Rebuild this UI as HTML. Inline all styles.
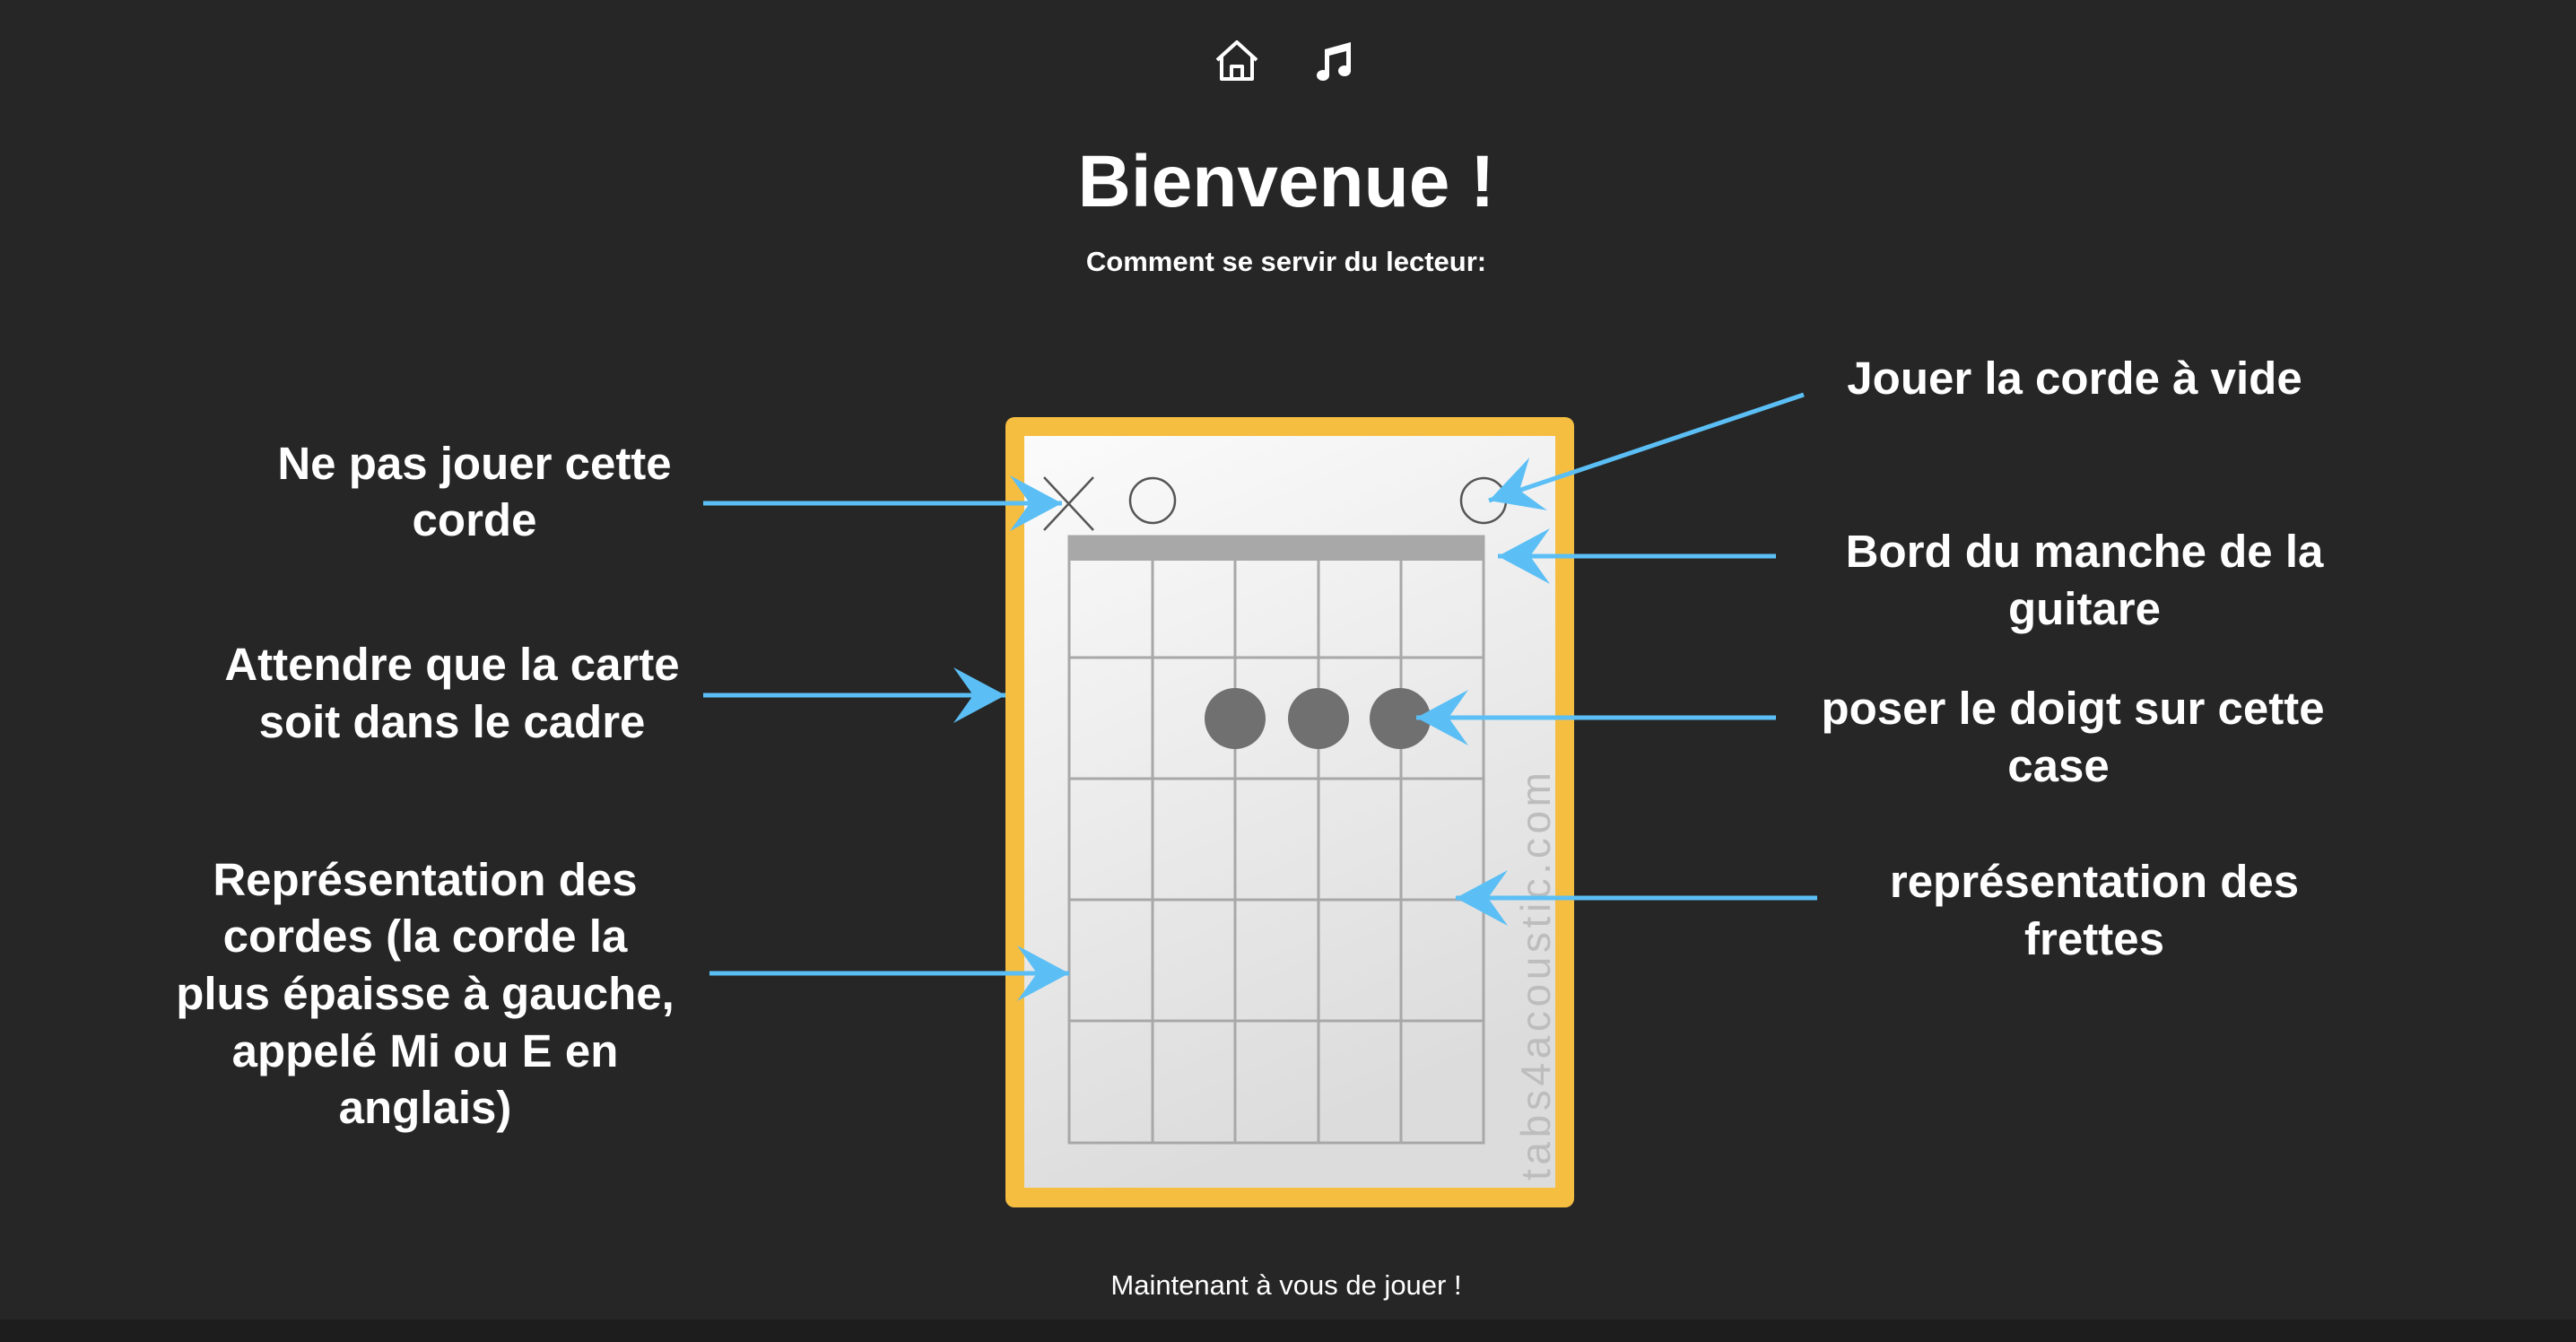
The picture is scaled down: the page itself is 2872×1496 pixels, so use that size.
<!DOCTYPE html>
<html><head><meta charset="utf-8"><style>
html,body{margin:0;padding:0;background:#262626;}
svg{display:block}
text{font-family:"Liberation Sans",sans-serif;fill:#fff;font-weight:bold;}
</style></head><body>
<svg width="2872" height="1496" viewBox="0 0 2872 1496" xmlns="http://www.w3.org/2000/svg">
<defs>
<marker id="ah" viewBox="-60 -35 65 70" markerWidth="65" markerHeight="70" refX="0" refY="0" markerUnits="userSpaceOnUse" orient="auto">
<path d="M0,0 L-58,-31 L-36,0 L-58,31 Z" fill="#5bbff5"/>
</marker>
<linearGradient id="cg" x1="0" y1="0" x2="0.3" y2="1">
<stop offset="0" stop-color="#fbfbfb"/><stop offset="1" stop-color="#dcdcdc"/>
</linearGradient>
</defs>
<rect x="0" y="0" width="2872" height="1496" fill="#262626"/>
<rect x="0" y="1471" width="2872" height="25" fill="#1d1d1d"/>

<!-- icons -->
<g fill="none" stroke="#fff" stroke-width="4" stroke-linejoin="round">
<path d="M1357,67 L1379,47 L1401,67 M1362,63 L1362,88 L1396,88 L1396,63"/>
<path d="M1373,88 L1373,74 L1385,74 L1385,88"/>
</g>
<g fill="#fff">
<path d="M1477,55 L1506,47 L1506,80 L1501,80 L1501,57 L1482,62 L1482,84 L1477,84 Z"/>
<ellipse cx="1475" cy="84" rx="7" ry="6"/>
<ellipse cx="1499" cy="79" rx="7" ry="6"/>
</g>

<text x="1434" y="230" font-size="82" text-anchor="middle">Bienvenue !</text>
<text x="1434" y="302" font-size="31" text-anchor="middle">Comment se servir du lecteur:</text>
<text x="1434" y="1443" font-size="31" text-anchor="middle" font-weight="normal" style="font-weight:normal">Maintenant à vous de jouer !</text>

<!-- card -->
<rect x="1121" y="465" width="634" height="881" rx="10" fill="#f5be41"/>
<rect x="1142" y="486" width="592" height="838" fill="url(#cg)"/>
<rect x="1192" y="598" width="462" height="27" fill="#a8a8a8"/>
<g stroke="#a8a8a8" stroke-width="3" fill="none">
<rect x="1192" y="598" width="462" height="676"/>
<line x1="1285" y1="625" x2="1285" y2="1274"/>
<line x1="1377" y1="625" x2="1377" y2="1274"/>
<line x1="1470" y1="625" x2="1470" y2="1274"/>
<line x1="1562" y1="625" x2="1562" y2="1274"/>
<line x1="1192" y1="733" x2="1654" y2="733"/>
<line x1="1192" y1="868" x2="1654" y2="868"/>
<line x1="1192" y1="1003" x2="1654" y2="1003"/>
<line x1="1192" y1="1138" x2="1654" y2="1138"/>
</g>
<g fill="#707070">
<circle cx="1377" cy="801" r="34"/>
<circle cx="1470" cy="801" r="34"/>
<circle cx="1561" cy="801" r="34"/>
</g>
<g stroke="#555" stroke-width="2.5" fill="none">
<line x1="1164" y1="532" x2="1219" y2="591"/>
<line x1="1219" y1="532" x2="1164" y2="591"/>
<ellipse cx="1285" cy="558" rx="25" ry="25"/>
<ellipse cx="1654" cy="558" rx="25" ry="25"/>
</g>
<text x="0" y="0" font-size="46" fill="#bdbdbd" style="fill:#bdbdbd;font-weight:normal" transform="translate(1728,1316) rotate(-90)" textLength="455">tabs4acoustic.com</text>

<!-- arrows -->
<g stroke="#5bbff5" stroke-width="5" marker-end="url(#ah)">
<line x1="784" y1="561" x2="1184" y2="561"/>
<line x1="784" y1="775" x2="1121" y2="775"/>
<line x1="791" y1="1085" x2="1192" y2="1085"/>
<line x1="2011" y1="440" x2="1660" y2="558"/>
<line x1="1980" y1="620" x2="1670" y2="620"/>
<line x1="1980" y1="800" x2="1579" y2="800"/>
<line x1="2026" y1="1001" x2="1623" y2="1001"/>
</g>

<!-- labels -->
<g font-size="51" text-anchor="middle">
<text x="529" y="534">Ne pas jouer cette</text>
<text x="529" y="597">corde</text>
<text x="504" y="758">Attendre que la carte</text>
<text x="504" y="822">soit dans le cadre</text>
<text x="474" y="998">Représentation des</text>
<text x="474" y="1061">cordes (la corde la</text>
<text x="474" y="1125">plus épaisse à gauche,</text>
<text x="474" y="1189">appelé Mi ou E en</text>
<text x="474" y="1252">anglais)</text>
<text x="2313" y="439">Jouer la corde à vide</text>
<text x="2324" y="632">Bord du manche de la</text>
<text x="2324" y="696">guitare</text>
<text x="2311" y="807">poser le doigt sur cette</text>
<text x="2295" y="871">case</text>
<text x="2335" y="1000">représentation des</text>
<text x="2335" y="1064">frettes</text>
</g>
</svg>
</body></html>
